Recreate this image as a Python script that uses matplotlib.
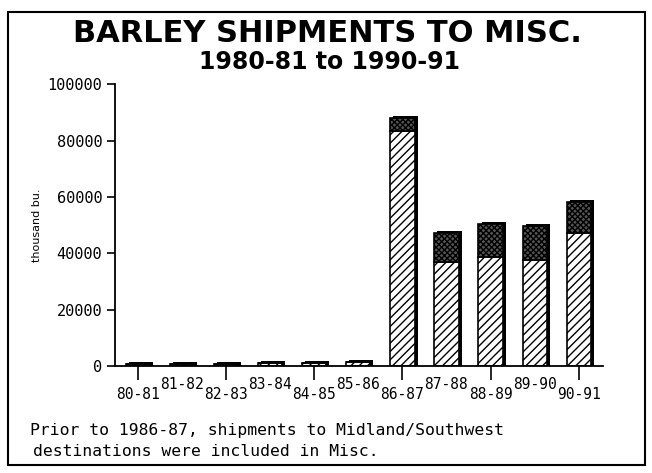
import numpy as np
import matplotlib.pyplot as plt
from matplotlib.patches import Rectangle

# Crop years and shipments (thousand bu.)
years = ['80-81', '81-82', '82-83', '83-84', '84-85', '85-86',
         '86-87', '87-88', '88-89', '89-90', '90-91']
misc_lower = [700, 800, 900, 1000, 1200, 1400, 83500, 36900, 38700, 37600, 47200]
misc_upper = [0, 0, 0, 0, 0, 0, 4500, 10300, 11700, 12000, 11000]

mono = 'DejaVu Sans Mono'

fig = plt.figure(figsize=(6.52, 4.73), dpi=100)
ax = fig.add_axes([0.176, 0.226, 0.749, 0.596])

x = np.arange(len(years))
totals = np.array(misc_lower) + np.array(misc_upper)
width = 0.55

# dark shadow behind each bar
ax.bar(x + 0.07, totals + 700, width=width, color='black', zorder=1)
ax.bar(x, misc_lower, width=width, color='white', edgecolor='black',
       hatch='////', linewidth=1.2, zorder=2)
ax.bar(x, misc_upper, bottom=misc_lower, width=width, color='#555555',
       edgecolor='black', hatch='xxxxxx', linewidth=1.2, zorder=2)

ax.set_xlim(-0.52, 10.55)
ax.set_ylim(0, 100000)
ax.set_yticks([0, 20000, 40000, 60000, 80000, 100000])
ax.tick_params(axis='y', direction='out', length=6, width=1.2, labelsize=11, pad=3)

ax.set_xticks(x[::2], [years[i] for i in range(0, 11, 2)])
ax.set_xticks(x[1::2], [years[i] for i in range(1, 11, 2)], minor=True)
ax.tick_params(axis='x', which='major', direction='out', length=10, width=1.2,
               labelsize=10.5, pad=5)
ax.tick_params(axis='x', which='minor', length=0, labelsize=10.5, pad=8)
for lbl in ax.get_xticklabels(which='both') + ax.get_yticklabels():
    lbl.set_family(mono)

for s in ['top', 'right']:
    ax.spines[s].set_visible(False)
ax.spines['left'].set_linewidth(1.3)
ax.spines['bottom'].set_linewidth(1.3)

ax.set_ylabel('thousand bu.', fontsize=8, labelpad=4)

fig.text(0.502, 0.930, 'BARLEY SHIPMENTS TO MISC.', ha='center', va='center',
         fontsize=22, fontweight='bold', family='DejaVu Sans')
fig.text(0.506, 0.869, '1980-81 to 1990-91', ha='center', va='center',
         fontsize=17, fontweight='bold', family='DejaVu Sans')

fig.text(0.046, 0.090, 'Prior to 1986-87, shipments to Midland/Southwest',
         ha='left', va='center', fontsize=11.8, family=mono)
fig.text(0.051, 0.046, 'destinations were included in Misc.',
         ha='left', va='center', fontsize=11.8, family=mono)

fig.patches.append(Rectangle((0.012, 0.017), 0.977, 0.958, transform=fig.transFigure,
                             fill=False, edgecolor='black', linewidth=1.5))

fig.savefig('out.png', dpi=100)
